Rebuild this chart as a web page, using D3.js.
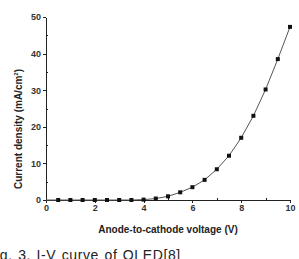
<!DOCTYPE html>
<html lang="en">
<head>
    <meta charset="UTF-8">
    <title>J-V curve</title>
    <script src="https://d3js.org/d3.v7.min.js" charset="utf-8"></script>
    <style type="text/css">
        body {
            margin: 0;
            background: #fff;
        }

        .axis path,
        .axis line {
            fill: none;
            stroke: #222;
            shape-rendering: crispEdges;
        }

        .axis text {
            font-family: "Liberation Sans", Arial, sans-serif;
            font-weight: bold;
            font-size: 9px;
            fill: #333;
        }
    </style>
</head>
<body>
    <script type="text/javascript">
        let w = 299,
            h = 259,
            margin = { top: 17, right: 9, bottom: 59, left: 46 };

        // voltage (V) and current density (mA/cm2)
        const voltage = [0.5, 1, 1.5, 2, 2.5, 3, 3.5, 4, 4.5, 5, 5.5, 6, 6.5, 7, 7.5, 8, 8.5, 9, 9.5, 10];
        const density = [0, 0, 0, 0, 0, 0, 0, 0.1, 0.4, 1.0, 2.1, 3.5, 5.5, 8.4, 12.1, 17.0, 23.0, 30.2, 38.5, 47.3];
        const xTicks = [0, 2, 4, 6, 8, 10];
        const yTicks = [0, 10, 20, 30, 40, 50];
        const xMinor = [1, 3, 5, 7, 9];
        const yMinor = [5, 15, 25, 35, 45];

        let dataset = voltage.map(function (v, i) {
            return { x: v, y: density[i] };
        });

        let svg = d3.select("body").append("svg").attr('width', w).attr('height', h);

        const xScale = d3.scaleLinear()
            .domain([0, 10])
            .range([margin.left, w - margin.right]);

        const yScale = d3.scaleLinear()
            .domain([0, 50])
            .range([h - margin.bottom, margin.top]);

        // minor ticks (inside)
        svg.append('g')
            .attr('class', 'axis')
            .attr('transform', `translate(0, ${yScale(0)})`)
            .call(d3.axisBottom(xScale).tickValues(xMinor).tickSize(-2).tickFormat(''))
            .select('path').remove();

        svg.append('g')
            .attr('class', 'axis')
            .attr('transform', `translate(${xScale(0)}, 0)`)
            .call(d3.axisLeft(yScale).tickValues(yMinor).tickSize(-2).tickFormat(''))
            .select('path').remove();

        // major axes
        svg.append('g')
            .attr('class', 'axis')
            .attr('transform', `translate(0, ${yScale(0)})`)
            .call(d3.axisBottom(xScale).tickValues(xTicks).tickSize(3).tickSizeOuter(0).tickPadding(2));

        svg.append('g')
            .attr('class', 'axis')
            .attr('transform', `translate(${xScale(0)}, 0)`)
            .call(d3.axisLeft(yScale).tickValues(yTicks).tickSize(3).tickSizeOuter(0).tickPadding(2));

        // curve
        const line = d3.line()
            .x(function (d) { return xScale(d.x); })
            .y(function (d) { return yScale(d.y); });

        svg.append('path')
            .datum([{ x: 0, y: 0 }].concat(dataset))
            .attr('d', line)
            .attr('fill', 'none')
            .attr('stroke', '#555')
            .attr('stroke-width', 1);

        svg.selectAll("rect.pt")
            .data(dataset)
            .enter()
            .append("rect")
            .attr('class', 'pt')
            .attr('x', function (d) { return xScale(d.x) - 2; })
            .attr('y', function (d) { return yScale(d.y) - 2; })
            .attr('width', 4)
            .attr('height', 4)
            .attr('fill', '#111');

        // axis titles
        svg.append('text')
            .attr('x', 168)
            .attr('y', 233)
            .attr('text-anchor', 'middle')
            .style('font-family', '"Liberation Sans", Arial, sans-serif')
            .style('font-weight', 'bold')
            .style('font-size', '10px')
            .style('fill', '#222')
            .text('Anode-to-cathode voltage (V)');

        let yLabel = svg.append('text')
            .attr('transform', 'translate(22, 129) rotate(-90)')
            .attr('text-anchor', 'middle')
            .style('font-family', '"Liberation Sans", Arial, sans-serif')
            .style('font-weight', 'bold')
            .style('font-size', '10px')
            .style('fill', '#222');
        yLabel.append('tspan').text('Current density (mA/cm');
        yLabel.append('tspan').attr('dy', -4).style('font-size', '6px').text('2');
        yLabel.append('tspan').attr('dy', 4).text(')');

        // caption (cut at left and bottom edge like the source)
        svg.append('text')
            .attr('x', -13)
            .attr('y', 260)
            .style('font-family', '"Liberation Sans", Arial, sans-serif')
            .style('font-size', '14px')
            .style('letter-spacing', '0.6px')
            .style('word-spacing', '1px')
            .style('fill', '#222')
            .text('Fig. 3. I-V curve of OLED[8]');
    </script>
</body>
</html>
